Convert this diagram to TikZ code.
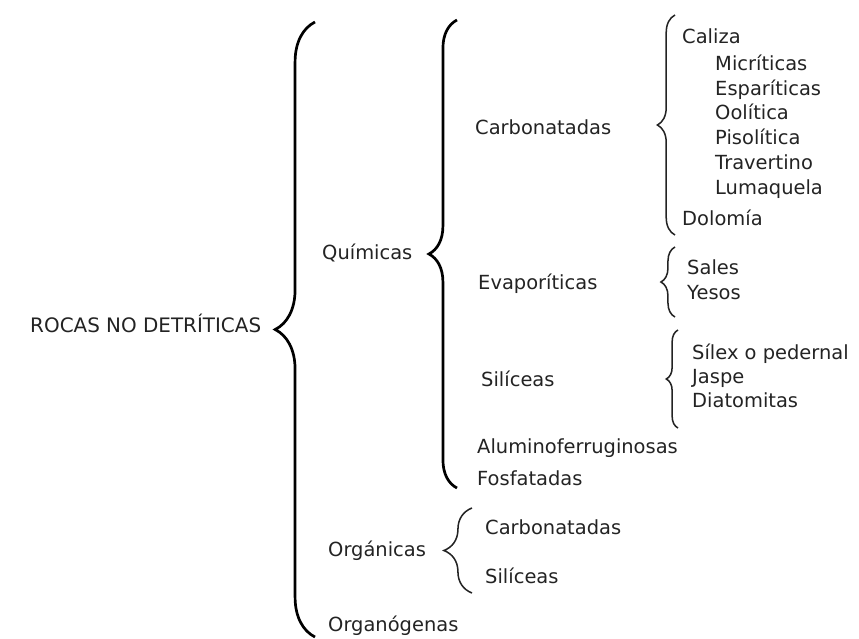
\documentclass[tikz,border=0pt]{standalone}
\usepackage{fontspec}
\setmainfont{DejaVu Sans}
\usepackage{tikz}
\usetikzlibrary{decorations.pathreplacing}
\usepackage{xcolor}
\definecolor{ink}{RGB}{35,35,35}

\begin{document}
\begin{tikzpicture}[
  x=0.03cm, y=-0.03cm,
  txt/.style={anchor=base west, inner sep=0pt, text=ink, font=\fontsize{16.6}{19}\selectfont},
  bigbrace/.style={decorate, decoration={brace, amplitude=#1}, line width=2.3pt, draw=black},
  smallbrace/.style={decorate, decoration={brace, amplitude=#1}, line width=1.3pt, draw=ink},
]
\useasboundingbox (0,0) rectangle (859,639);

% Root
\node[txt, font=\fontsize{17}{19}\selectfont] (root) at (30,332) {ROCAS NO DETRÍTICAS};
\coordinate (b1top) at (315,22);
\coordinate (b1bot) at (315,637);
\draw[bigbrace=34pt] (b1bot) -- (b1top);

% Quimicas
\node[txt] (quim) at (322,259) {Químicas};
\coordinate (b2top) at (457,20);
\coordinate (b2bot) at (457,488);
\draw[bigbrace=24pt] (b2bot) -- (b2top);

% Carbonatadas
\node[txt] (carb) at (475,134) {Carbonatadas};
\coordinate (b3top) at (675,15);
\coordinate (b3bot) at (675,235);
\draw[smallbrace=15pt] (b3bot) -- (b3top);
\node[txt] (caliza) at (682,43) {Caliza};
\node[txt] (micr) at (715,70) {Micríticas};
\node[txt] (espa) at (715,95) {Esparíticas};
\node[txt] (ooli) at (715,119) {Oolítica};
\node[txt] (piso) at (715,144) {Pisolítica};
\node[txt] (trav) at (715,169) {Travertino};
\node[txt] (luma) at (715,194) {Lumaquela};
\node[txt] (dolo) at (682,225) {Dolomía};

% Evaporiticas
\node[txt] (evap) at (478,289) {Evaporíticas};
\coordinate (b4top) at (675,247);
\coordinate (b4bot) at (675,317);
\draw[smallbrace=12pt] (b4bot) -- (b4top);
\node[txt] (sales) at (687,274) {Sales};
\node[txt] (yesos) at (687,299) {Yesos};

% Siliceas
\node[txt] (sili) at (481,386) {Silíceas};
\coordinate (b5top) at (678,330);
\coordinate (b5bot) at (678,428);
\draw[smallbrace=10pt] (b5bot) -- (b5top);
\node[txt] (silex) at (692,359) {Sílex o pedernal};
\node[txt] (jaspe) at (692,383) {Jaspe};
\node[txt] (diat) at (692,407) {Diatomitas};

\node[txt] (alum) at (477,453) {Aluminoferruginosas};
\node[txt] (fosf) at (477,485) {Fosfatadas};

% Organicas
\node[txt] (orga) at (328,556) {Orgánicas};
\coordinate (b6top) at (472,508);
\coordinate (b6bot) at (472,593);
\draw[smallbrace=24pt] (b6bot) -- (b6top);
\node[txt] (ocarb) at (485,534) {Carbonatadas};
\node[txt] (osili) at (485,583) {Silíceas};

\node[txt] (orgn) at (328,631) {Organógenas};
\end{tikzpicture}
\end{document}
